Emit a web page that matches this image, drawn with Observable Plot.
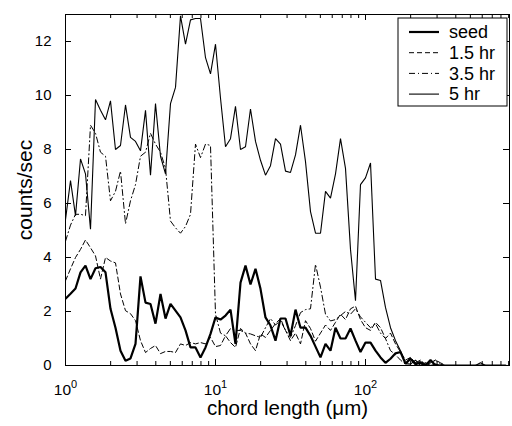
<!DOCTYPE html>
<html><head><meta charset="utf-8">
<script src="https://cdn.jsdelivr.net/npm/d3@7"></script>
<script src="https://cdn.jsdelivr.net/npm/@observablehq/plot@0.6"></script>
<style>
body{margin:0;background:#fff}
svg{font-family:"Liberation Sans",Arial,Helvetica,sans-serif}
</style>
</head><body><div id="chart"></div>
<script>
// FBRM chord-length channels (µm), 30 log channels per decade
const chordLength = [
  1.000,1.080,1.166,1.259,1.359,1.468,1.585,1.711,1.848,1.995,
  2.154,2.326,2.512,2.712,2.929,3.162,3.415,3.687,3.981,4.299,
  4.642,5.012,5.412,5.843,6.310,6.813,7.356,7.943,8.577,9.261,
  10.00,10.80,11.66,12.59,13.59,14.68,15.85,17.11,18.48,19.95,
  21.54,23.26,25.12,27.12,29.29,31.62,34.15,36.87,39.81,42.99,
  46.42,50.12,54.12,58.43,63.10,68.13,73.56,79.43,85.77,92.61,
  100.0,108.0,116.6,125.9,135.9,146.8,158.5,171.1,184.8,199.5,
  215.4,232.6,251.2,271.2,292.9,316.2,341.5,368.7,398.1,429.9,
  464.2,501.2,541.2,584.3,631.0,681.3,735.6,794.3,857.7
];
const seed = [
  2.47,2.66,2.85,3.45,3.70,3.20,3.60,3.65,3.45,2.10,
  1.40,0.55,0.18,0.26,0.80,3.30,2.33,2.28,1.55,2.65,
  1.74,2.28,2.03,1.78,1.30,0.67,0.67,0.30,0.67,1.17,
  1.78,1.70,1.85,2.07,0.80,3.07,3.70,3.00,3.58,2.84,
  1.78,1.48,0.92,1.74,1.74,1.10,2.07,1.40,1.40,1.10,
  0.70,0.30,0.80,0.55,1.40,1.00,1.00,1.37,0.92,0.50,
  0.85,0.85,0.55,0.30,0.10,0.25,0.45,0.50,0.07,0.25,
  0.05,0.10,0.00,0.20,0.00,0,0,0,0,0,
  0,0,0,0,0,0,0,0,0
];
const hr15 = [
  3.14,3.58,4.00,4.30,4.65,4.36,4.06,3.20,4.00,3.87,
  3.80,2.65,2.03,1.92,1.66,0.92,0.48,0.63,0.74,0.44,
  0.52,0.52,0.48,0.80,0.74,0.85,0.80,0.85,0.80,1.04,
  0.70,0.74,1.10,0.85,0.67,1.37,1.20,0.80,0.55,1.17,
  1.04,1.30,1.55,1.74,1.30,0.92,1.20,0.80,1.66,1.37,
  0.90,1.20,1.50,1.30,1.60,1.90,1.70,2.10,2.20,1.70,
  1.40,1.30,1.60,1.40,1.00,1.20,0.80,0.50,0.20,0.30,
  0.10,0.15,0.05,0.10,0.20,0.05,0,0,0,0,
  0,0,0,0,0,0,0,0,0
];
const hr35 = [
  4.60,5.20,5.60,5.60,5.55,8.90,8.60,7.90,7.75,6.10,
  6.45,7.20,5.25,6.10,6.70,7.75,7.90,8.60,8.20,7.90,
  7.30,5.35,5.10,4.90,5.15,5.60,8.20,7.70,8.20,8.15,
  1.90,1.20,1.10,1.37,1.30,1.30,1.20,1.17,1.10,1.04,
  1.40,1.74,1.50,1.66,1.30,1.04,1.48,1.96,2.07,2.10,
  3.75,2.90,1.90,1.65,1.70,1.85,2.00,1.90,2.10,1.80,
  1.60,1.40,1.55,1.20,1.00,0.55,0.40,0.20,0.05,0.30,
  0.10,0.20,0.05,0.10,0.20,0.10,0,0,0,0,
  0,0,0,0,0,0,0,0,0
];
const hr5 = [
  5.40,6.85,5.55,7.65,7.10,5.05,9.85,9.45,9.10,9.80,
  8.00,8.15,9.65,8.45,8.30,7.95,9.45,7.05,9.70,7.75,
  7.10,9.70,10.30,12.95,11.90,12.80,12.85,12.85,11.40,10.80,
  11.90,9.90,8.10,8.40,9.60,8.00,8.10,9.50,8.30,7.60,
  7.05,7.40,8.40,8.20,7.20,7.15,7.80,8.90,7.55,5.70,
  4.90,4.90,6.45,6.20,7.10,8.40,7.30,4.30,2.40,6.70,
  6.95,7.50,3.20,3.15,2.15,1.40,0.92,0.55,0.07,0.05,
  0.20,0.00,0.10,0.00,0.05,0,0,0,0,0,
  0,0,0,0.10,0,0,0,0,0
];
const seriesNames = ["seed","1.5 hr","3.5 hr","5 hr"];
const seriesValues = [seed, hr15, hr35, hr5];
const seriesStyles = [
  {strokeWidth: 2.2, dash: null},
  {strokeWidth: 1, dash: "5,3"},
  {strokeWidth: 1, dash: "6,3,1,3"},
  {strokeWidth: 1.1, dash: null}
];
const xMajorTicks = [1, 10, 100];
const xMinorTicks = [2,3,4,5,6,7,8,9,20,30,40,50,60,70,80,90,200,300,400,500,600,700,800,900];
const yTicks = [0,2,4,6,8,10,12];

const W = 512, H = 426, mL = 65, mR = 3, mT = 14, mB = 61;
const fw = W - mL - mR, fh = H - mT - mB;

const lineMarks = seriesValues.map((vals, k) => Plot.line(
  chordLength.map((x, i) => ({x, y: vals[i]})),
  {x: "x", y: "y", stroke: "black", strokeWidth: seriesStyles[k].strokeWidth,
   strokeDasharray: seriesStyles[k].dash, strokeLinejoin: "miter", clip: true}
));

const svg = Plot.plot({
  width: W, height: H,
  marginLeft: mL, marginRight: mR, marginTop: mT, marginBottom: mB,
  style: {fontFamily: "'Liberation Sans', Arial, sans-serif", background: "white", color: "black"},
  x: {type: "log", domain: [1, 912]},
  y: {domain: [0, 13]},
  marks: [
    ...lineMarks,
    Plot.tickX(xMajorTicks, {x: d => d, insetTop: fh - 6, stroke: "black"}),
    Plot.tickX(xMajorTicks, {x: d => d, insetBottom: fh - 6, stroke: "black"}),
    Plot.tickX(xMinorTicks, {x: d => d, insetTop: fh - 4, stroke: "black"}),
    Plot.tickX(xMinorTicks, {x: d => d, insetBottom: fh - 4, stroke: "black"}),
    Plot.tickY(yTicks, {y: d => d, insetRight: fw - 6, stroke: "black"}),
    Plot.tickY(yTicks, {y: d => d, insetLeft: fw - 6, stroke: "black"}),
    Plot.frame({stroke: "black", strokeWidth: 1}),
    Plot.axisX({ticks: xMajorTicks, tickSize: 0, tickPadding: 18, fontSize: 15.5,
      tickFormat: d => "10^" + Math.round(Math.log10(d)), label: null}),
    Plot.axisY({ticks: yTicks, tickSize: 0, tickPadding: 14, fontSize: 15, label: null}),
    Plot.text(["chord length (μm)"], {text: d => d, frameAnchor: "bottom", dy: 49, fontSize: 20.5, fill: "black"}),
    Plot.text(["counts/sec"], {text: d => d, frameAnchor: "left", textAnchor: "middle", dx: -40, rotate: -90, fontSize: 21, fill: "black"})
  ]
});

// superscript exponents on the log-axis tick labels
d3.select(svg).selectAll("g[aria-label='x-axis tick label'] text").each(function() {
  const t = d3.select(this);
  const s = t.text();
  if (s.includes("^")) {
    const [base, exp] = s.split("^");
    t.text(base);
    t.append("tspan").attr("dy", "-0.55em").attr("font-size", "11px").text(exp);
  }
});

// legend box (top-right, inside the axes)
const lg = d3.select(svg).append("g").attr("transform", `translate(${mL + fw - 111},${mT + 4})`);
lg.append("rect").attr("width", 109).attr("height", 88).attr("fill", "white").attr("stroke", "black").attr("stroke-width", 1);
seriesNames.forEach((name, k) => {
  const yy = 14 + k * 20.7;
  lg.append("line").attr("x1", 11).attr("x2", 41).attr("y1", yy).attr("y2", yy)
    .attr("stroke", "black").attr("stroke-width", seriesStyles[k].strokeWidth)
    .attr("stroke-dasharray", seriesStyles[k].dash);
  lg.append("text").attr("x", 51).attr("y", yy).attr("dy", "0.35em")
    .attr("text-anchor", "start")
    .attr("font-size", 18).attr("fill", "black").text(name);
});

document.getElementById("chart").appendChild(svg);
</script>
</body></html>
